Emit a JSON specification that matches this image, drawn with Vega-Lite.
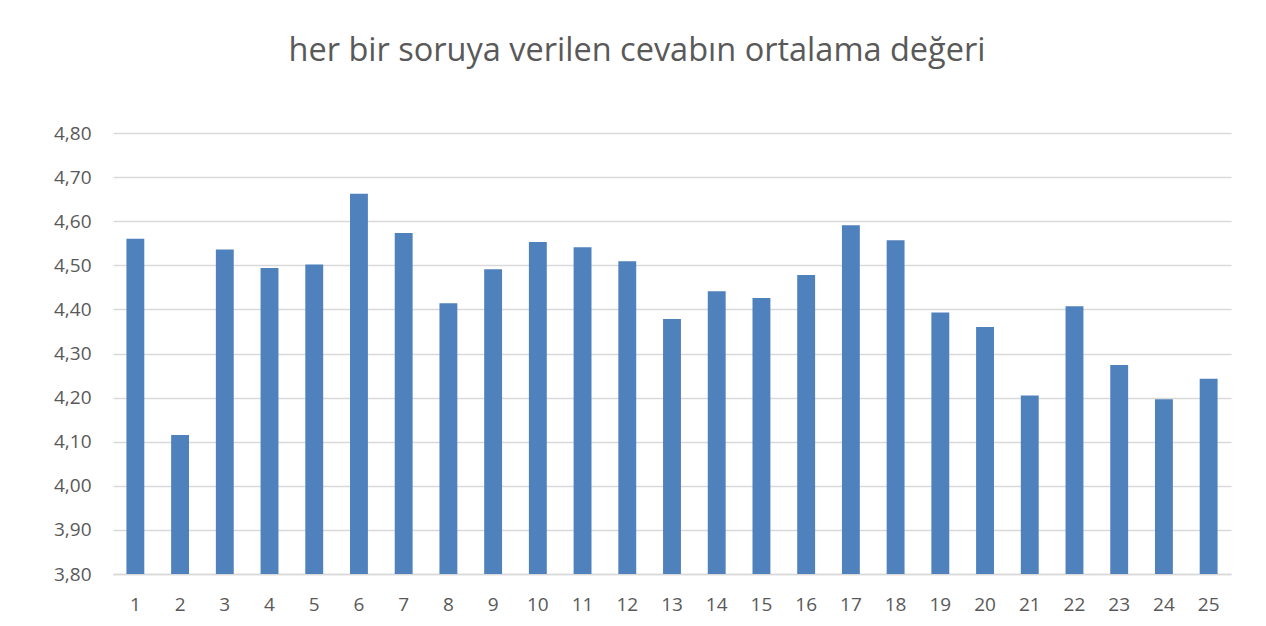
{
  "$schema": "https://vega.github.io/schema/vega-lite/v6.json",
  "width": 1118,
  "height": 441,
  "autosize": {"type": "none"},
  "padding": {"left": 113, "top": 133, "right": 35, "bottom": 52},
  "background": "white",
  "title": {
    "text": "her bir soruya verilen cevabın ortalama değeri",
    "font": "Open Sans",
    "fontSize": 32.5,
    "fontWeight": "normal",
    "color": "#595959",
    "anchor": "middle",
    "dx": -35,
    "offset": 57
  },
  "data": {
    "values": [
      {"soru": "1", "deger": 4.560},
      {"soru": "2", "deger": 4.115},
      {"soru": "3", "deger": 4.536},
      {"soru": "4", "deger": 4.494},
      {"soru": "5", "deger": 4.502},
      {"soru": "6", "deger": 4.662},
      {"soru": "7", "deger": 4.573},
      {"soru": "8", "deger": 4.414},
      {"soru": "9", "deger": 4.491},
      {"soru": "10", "deger": 4.553},
      {"soru": "11", "deger": 4.541},
      {"soru": "12", "deger": 4.509},
      {"soru": "13", "deger": 4.378},
      {"soru": "14", "deger": 4.441},
      {"soru": "15", "deger": 4.426},
      {"soru": "16", "deger": 4.478},
      {"soru": "17", "deger": 4.591},
      {"soru": "18", "deger": 4.557},
      {"soru": "19", "deger": 4.393},
      {"soru": "20", "deger": 4.360},
      {"soru": "21", "deger": 4.205},
      {"soru": "22", "deger": 4.407},
      {"soru": "23", "deger": 4.274},
      {"soru": "24", "deger": 4.196},
      {"soru": "25", "deger": 4.243}
    ]
  },
  "mark": {"type": "bar", "color": "#4F81BD", "clip": true},
  "encoding": {
    "x": {
      "field": "soru",
      "type": "ordinal",
      "sort": null,
      "scale": {"paddingInner": 0.6, "paddingOuter": 0.3},
      "axis": {
        "title": null,
        "labelAngle": 0,
        "labelFont": "Open Sans",
        "labelFontSize": 19,
        "labelColor": "#595959",
        "labelPadding": 21,
        "ticks": false,
        "domainColor": "#D9D9D9",
        "domainWidth": 1.5
      }
    },
    "y": {
      "field": "deger",
      "type": "quantitative",
      "scale": {"domain": [3.8, 4.8], "zero": false, "nice": false},
      "axis": {
        "title": null,
        "values": [3.8, 3.9, 4.0, 4.1, 4.2, 4.3, 4.4, 4.5, 4.6, 4.7, 4.8],
        "labelExpr": "replace(format(datum.value, '.2f'), '.', ',')",
        "labelFont": "Open Sans",
        "labelFontSize": 19,
        "labelColor": "#595959",
        "labelPadding": 22,
        "ticks": false,
        "domain": false,
        "gridColor": "#D9D9D9",
        "gridWidth": 1.5
      }
    }
  },
  "config": {
    "view": {"stroke": null}
  }
}
